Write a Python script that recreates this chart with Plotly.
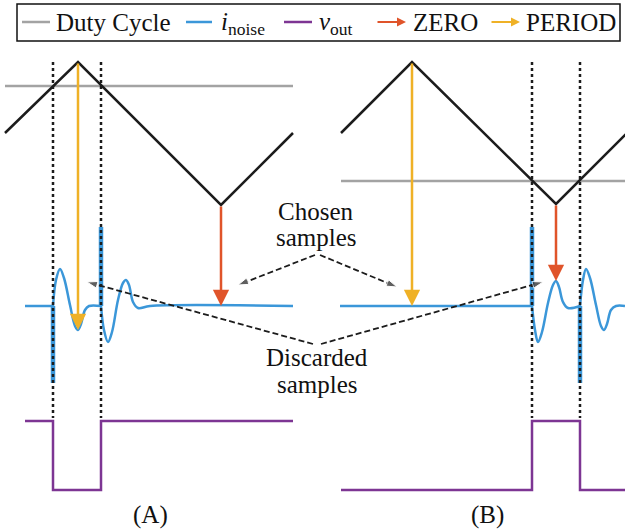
import plotly.graph_objects as go

# ---------------- data (schematic units: x ~ time, y ~ level, downward positive) ----
carrier_A_x = [5, 78, 221, 293]
carrier_A_y = [133, 62, 205, 133]
carrier_B_x = [341, 412, 556, 628]
carrier_B_y = [133, 62, 204, 132]

duty_A_x = [5, 293]
duty_A_y = [86, 86]
duty_B_x = [341, 625]
duty_B_y = [181, 181]

switch_A = [53, 101]
switch_B = [532, 580]

noise_A1_x = [25, 53]
noise_A1_y = [306, 306]
noise_A2_x = [53, 56, 60, 64, 70, 75, 78, 81, 85, 89, 101]
noise_A2_y = [306, 280, 269, 278, 305, 326, 330, 324, 310, 306, 306]
noise_A3_x = [101, 104, 108, 112, 118, 123, 126, 129, 133, 138, 150, 293]
noise_A3_y = [306, 330, 342, 332, 300, 283, 280, 285, 302, 308, 306, 306]
spike_A_x = [[53, 53], [101, 101]]
spike_A_y = [[306, 383], [306, 227]]

noise_B1_x = [340, 532]
noise_B1_y = [306, 306]
noise_B2_x = [532, 535, 538, 542, 548, 553, 556, 559, 563, 568, 580]
noise_B2_y = [306, 330, 342, 332, 303, 285, 281, 287, 302, 308, 306]
noise_B3_x = [580, 583, 586, 590, 596, 601, 604, 607, 611, 616, 625]
noise_B3_y = [306, 280, 269, 278, 305, 326, 330, 324, 310, 306, 306]
spike_B_x = [[532, 532], [580, 580]]
spike_B_y = [[306, 227], [306, 383]]

vout_A_x = [25, 53, 53, 101, 101, 293]
vout_A_y = [421, 421, 490, 490, 421, 421]
vout_B_x = [341, 532, 532, 580, 580, 625]
vout_B_y = [490, 490, 421, 421, 490, 490]

period_arrows = [(78, 62, 78, 330), (412, 62, 412, 306)]   # x0, y0, x1, y1
zero_arrows = [(221, 205, 221, 306), (556, 204, 556, 281)]

chosen_lines = [([315, 238], [255, 285]), ([320, 397], [255, 287])]
discarded_lines = [([313, 87], [344, 282]), ([321, 543], [344, 282])]

# ---------------- styles ----------------
BLUE = "#3b97d9"
GRAY = "#a3a3a3"
PURPLE = "#7d3593"
RED = "#e0542a"
YELLOW = "#efb126"
BLACK = "#1c1c1c"
FONT = "Liberation Serif"

fig = go.Figure()

def line(x, y, color, width, dash=None, shape="linear"):
    fig.add_trace(go.Scatter(x=x, y=y, mode="lines", showlegend=False, hoverinfo="skip",
                             line=dict(color=color, width=width, dash=dash, shape=shape)))

# duty cycle
line(duty_A_x, duty_A_y, GRAY, 2.5)
line(duty_B_x, duty_B_y, GRAY, 2.5)
# carriers
line(carrier_A_x, carrier_A_y, BLACK, 2.5)
line(carrier_B_x, carrier_B_y, BLACK, 2.5)

# noise
for xs, ys in [(noise_A1_x, noise_A1_y), (noise_A2_x, noise_A2_y), (noise_A3_x, noise_A3_y),
               (noise_B1_x, noise_B1_y), (noise_B2_x, noise_B2_y), (noise_B3_x, noise_B3_y)]:
    line(xs, ys, BLUE, 2.5, shape="spline")
for xs, ys in zip(spike_A_x + spike_B_x, spike_A_y + spike_B_y):
    line(xs, ys, BLUE, 4.5)

# vout
line(vout_A_x, vout_A_y, PURPLE, 2.5)
line(vout_B_x, vout_B_y, PURPLE, 2.5)

# dotted switching lines
for sx in switch_A + switch_B:
    line([sx, sx], [62, 418], BLACK, 2.5, dash="dot")

annotations = []
# sampling arrows
for (x0, y0, x1, y1), col in [(a, YELLOW) for a in period_arrows] + [(a, RED) for a in zero_arrows]:
    annotations.append(dict(x=x1, y=y1, ax=x0, ay=y0, xref="x", yref="y", axref="x", ayref="y",
                            showarrow=True, arrowhead=2, arrowsize=1.3, arrowwidth=2.5,
                            arrowcolor=col, text="", standoff=0))

# dashed pointer arrows
for xs, ys in chosen_lines + discarded_lines:
    fig.add_trace(go.Scatter(x=xs, y=ys, mode="lines+markers", showlegend=False, hoverinfo="skip",
                             line=dict(color=BLACK, width=1.8, dash="6px,3px"),
                             marker=dict(symbol="arrow", size=[0, 11], angleref="previous",
                                         color=BLACK)))

# text labels
def text(x, y, s, size=25, anchor="center"):
    annotations.append(dict(x=x, y=y, xref="x", yref="y", text=s, showarrow=False,
                            xanchor=anchor, yanchor="middle",
                            font=dict(family=FONT, size=size, color="#111")))

text(316, 211, "Chosen")
text(316, 237, "samples")
text(317, 357, "Discarded")
text(317, 384, "samples")
text(150, 515, "(A)")
text(487, 515, "(B)")

# legend (drawn manually)
LY = 22
line([22, 50], [LY, LY], GRAY, 2.5)
text(54, LY, "Duty Cycle", anchor="left")
line([186, 212], [LY, LY], BLUE, 2.5)
text(219, LY + 1, "<i>i</i><sub>noise</sub>", anchor="left")
line([284, 312], [LY, LY], PURPLE, 2.5)
text(317, LY + 1, "<i>v</i><sub>out</sub>", anchor="left")
for x0, col in [(376, RED), (490, YELLOW)]:
    annotations.append(dict(x=x0 + 30, y=LY, ax=x0, ay=LY, xref="x", yref="y", axref="x",
                            ayref="y", showarrow=True, arrowhead=2, arrowsize=1, arrowwidth=1.8,
                            arrowcolor=col, text="", standoff=0))
text(411, LY, "ZERO", anchor="left")
text(524, LY, "PERIOD", anchor="left")

shapes = [dict(type="rect", xref="x", yref="y", x0=17, x1=620, y0=4, y1=41,
               line=dict(color="#111", width=1.5), fillcolor="rgba(0,0,0,0)")]

fig.update_layout(
    width=625, height=530, margin=dict(l=0, r=0, t=0, b=0),
    paper_bgcolor="white", plot_bgcolor="white",
    font=dict(family=FONT),
    xaxis=dict(range=[0, 625], visible=False, fixedrange=True),
    yaxis=dict(range=[530, 0], visible=False, fixedrange=True),
    annotations=annotations, shapes=shapes, showlegend=False,
)

fig.write_html("out.html")
